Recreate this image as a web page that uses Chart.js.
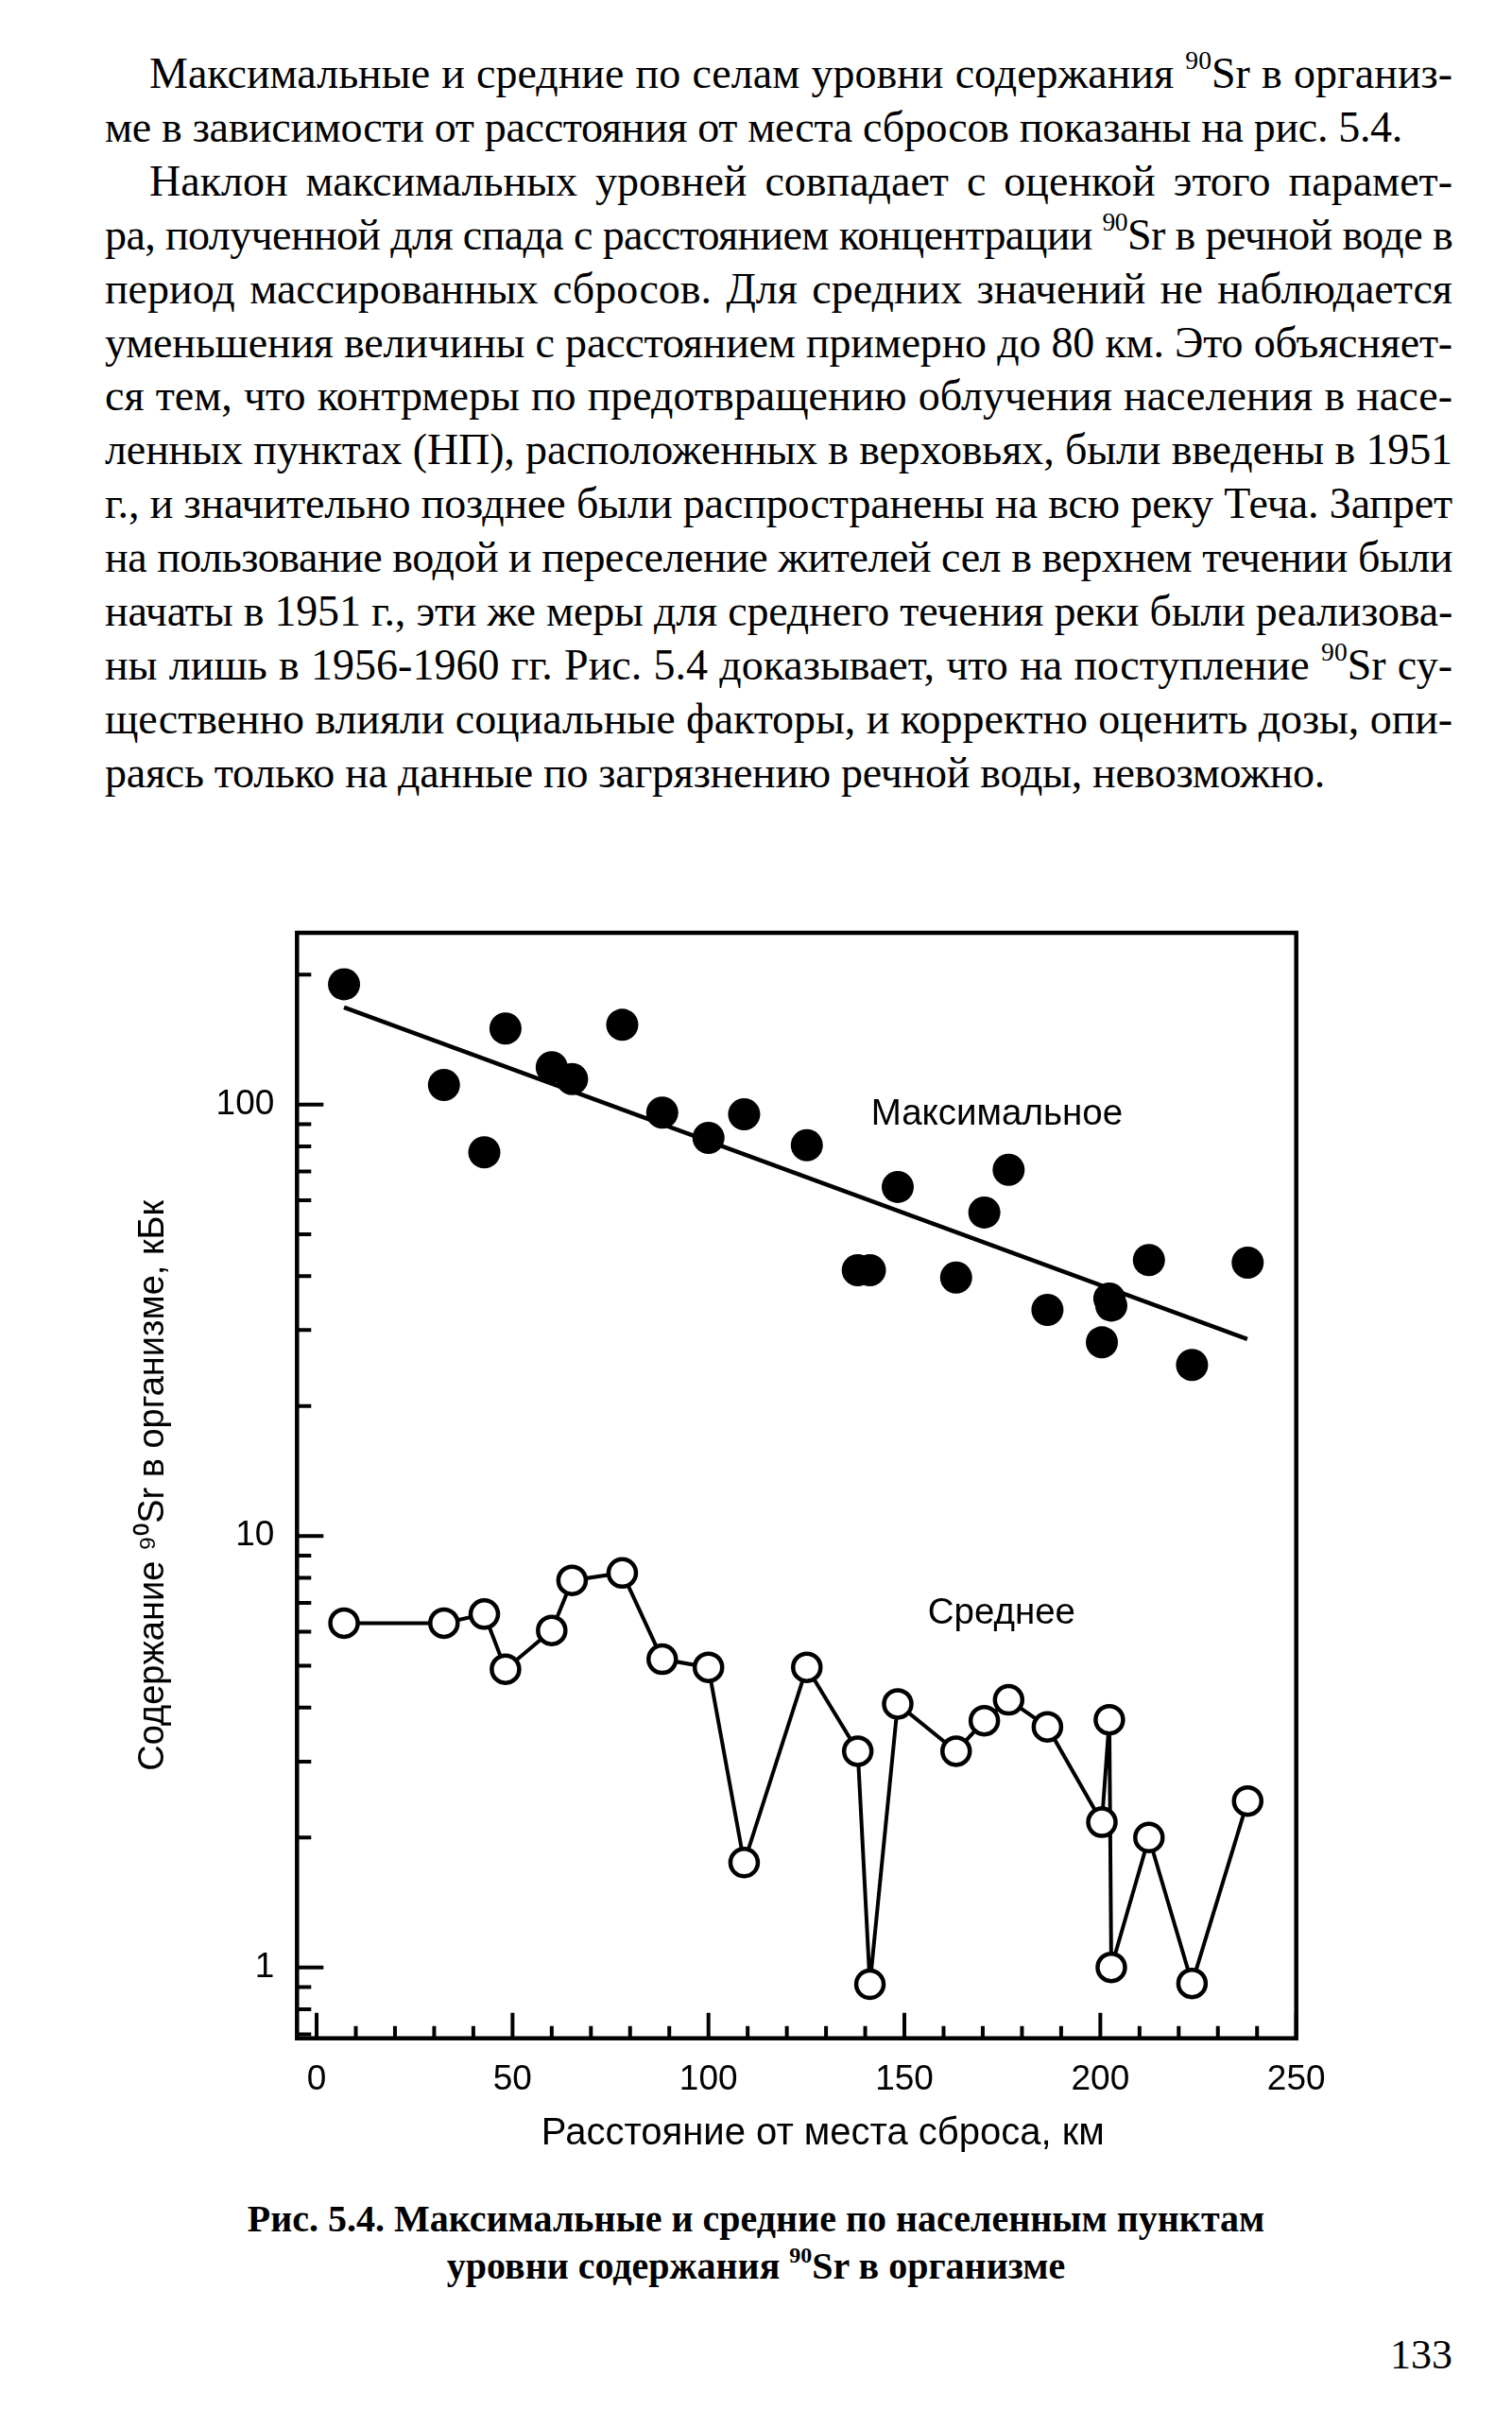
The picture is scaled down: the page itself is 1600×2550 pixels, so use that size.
<!DOCTYPE html>
<html lang="ru">
<head>
<meta charset="utf-8">
<script src="https://cdn.jsdelivr.net/npm/chart.js@4.4.1/dist/chart.umd.min.js"></script>
<style>
  html, body { margin: 0; padding: 0; background: #fff; }
  body { width: 1600px; height: 2550px; position: relative; overflow: hidden; color: #000; }
  .txt { position: absolute; left: 111px; top: 50px; width: 1426px;
         font-family: "Liberation Serif", "Times New Roman", serif; font-size: 46px; line-height: 56.9px; }
  .txt div { white-space: nowrap; }
  .txt .ind { padding-left: 47px; }
  sup { font-size: 0.6em; line-height: 0; vertical-align: 0.72em; }
  #wrap { position: absolute; left: 140px; top: 900px; width: 1300px; height: 1420px; }
  .cap { position: absolute; left: 0; top: 2323px; width: 1600px; text-align: center;
         font-family: "Liberation Serif", "Times New Roman", serif; font-weight: bold; font-size: 40px; line-height: 50px; }
  .pg { position: absolute; right: 63px; top: 2466px;
        font-family: "Liberation Serif", "Times New Roman", serif; font-size: 44px; }
</style>
</head>
<body>

<div class="txt">
  <div class="ind"><span>Максимальные и средние по селам уровни содержания <sup>90</sup>Sr в организ-</span></div>
  <div data-w="1373"><span>ме в зависимости от расстояния от места сбросов показаны на рис. 5.4.</span></div>
  <div class="ind"><span>Наклон максимальных уровней совпадает с оценкой этого парамет-</span></div>
  <div><span>ра, полученной для спада с расстоянием концентрации <sup>90</sup>Sr в речной воде в</span></div>
  <div><span>период массированных сбросов. Для средних значений не наблюдается</span></div>
  <div><span>уменьшения величины с расстоянием примерно до 80 км. Это объясняет-</span></div>
  <div><span>ся тем, что контрмеры по предотвращению облучения населения в насе-</span></div>
  <div><span>ленных пунктах (НП), расположенных в верховьях, были введены в 1951</span></div>
  <div><span>г., и значительно позднее были распространены на всю реку Теча. Запрет</span></div>
  <div><span>на пользование водой и переселение жителей сел в верхнем течении были</span></div>
  <div><span>начаты в 1951 г., эти же меры для среднего течения реки были реализова-</span></div>
  <div><span>ны лишь в 1956-1960 гг. Рис. 5.4 доказывает, что на поступление <sup>90</sup>Sr су-</span></div>
  <div><span>щественно влияли социальные факторы, и корректно оценить дозы, опи-</span></div>
  <div data-w="1291"><span>раясь только на данные по загрязнению речной воды, невозможно.</span></div>
</div>

<div id="wrap"><canvas id="sr90"></canvas></div>

<div class="cap">Рис. 5.4. Максимальные и средние по населенным пунктам<br>уровни содержания <sup>90</sup>Sr в организме</div>
<div class="pg">133</div>

<script>
// fit each printed line to its width: stretch spaces, or tighten letters if too long
document.querySelectorAll('.txt div').forEach(function (el) {
  var span = el.firstElementChild;
  var pad = parseFloat(getComputedStyle(el).paddingLeft) || 0;
  var target = el.dataset.w ? +el.dataset.w : el.clientWidth - pad;
  var natural = span.getBoundingClientRect().width;
  var diff = target - natural;
  var spaces = (span.textContent.match(/ /g) || []).length;
  if (diff >= 0) {
    if (spaces) span.style.wordSpacing = (diff / spaces) + 'px';
  } else {
    span.style.letterSpacing = (diff / span.textContent.length) + 'px';
  }
});

// расстояние от места сброса, км
const distance = [7, 32.5, 42.8, 48.2, 60, 65.2, 78, 88.2, 100, 109.1, 125.1, 138.1,
                  141.2, 148.3, 163.2, 170.4, 176.6, 186.5, 200.4, 202.3, 202.8, 212.4, 223.4, 237.6];
// максимальное содержание, кБк
const maxLevel = [190, 111, 77.5, 150, 122, 114.5, 153, 95.8, 83.7, 94.9, 80.5, 41.3,
                  41.3, 64.4, 39.7, 56.2, 70.6, 33.4, 28.1, 35.5, 34.2, 43.6, 24.9, 43.0];
// среднее содержание, кБк
const meanLevel = [6.28, 6.28, 6.59, 4.91, 6.04, 7.89, 8.21, 5.18, 4.96, 1.75, 4.96, 3.17,
                   0.914, 4.08, 3.17, 3.73, 4.17, 3.61, 2.17, 3.75, 1.0, 2.0, 0.918, 2.43];
// линия тренда для максимальных значений
const fitX = [7, 237.5];
const fitY = [168, 28.6];

const xTicks = [0, 10, 20, 30, 40, 50, 60, 70, 80, 90, 100, 110, 120, 130, 140, 150,
                160, 170, 180, 190, 200, 210, 220, 230, 240, 250];
const xLabels = [0, 50, 100, 150, 200, 250];
const yTicks = [0.7, 0.8, 0.9, 1, 2, 3, 4, 5, 6, 7, 8, 9, 10, 20, 30, 40, 50, 60, 70, 80, 90, 100, 200];
const yLabels = [1, 10, 100];

const FONT = '"Liberation Sans", Arial, Helvetica, sans-serif';

const toPoints = (xs, ys) => xs.map((x, i) => ({x: x, y: ys[i]}));

const frame = {
  id: 'frame',
  afterDraw(chart) {
    const {ctx, chartArea: a, scales: {x, y}} = chart;
    ctx.save();
    ctx.strokeStyle = '#000';
    ctx.lineWidth = 4;
    ctx.beginPath();
    xTicks.forEach(v => {
      const px = x.getPixelForValue(v);
      const len = xLabels.includes(v) ? 27 : 13;
      ctx.moveTo(px, a.bottom);
      ctx.lineTo(px, a.bottom - len);
    });
    yTicks.forEach(v => {
      const py = y.getPixelForValue(v);
      const len = yLabels.includes(v) ? 28 : 15;
      ctx.moveTo(a.left, py);
      ctx.lineTo(a.left + len, py);
    });
    ctx.stroke();
    ctx.lineWidth = 4.5;
    ctx.strokeRect(a.left, a.top, a.right - a.left, a.bottom - a.top);

    ctx.fillStyle = '#000';
    ctx.font = '38.5px ' + FONT;
    ctx.textAlign = 'center';
    ctx.textBaseline = 'middle';
    ctx.fillText('Максимальное', x.getPixelForValue(173.6), y.getPixelForValue(94.9));
    ctx.fillText('Среднее', x.getPixelForValue(174.8), y.getPixelForValue(6.6));
    ctx.restore();
  }
};

new Chart(document.getElementById('sr90'), {
  type: 'scatter',
  data: {
    datasets: [{
      label: 'Максимальное',
      data: toPoints(distance, maxLevel),
      showLine: false,
      pointRadius: 17,
      pointBorderWidth: 0,
      backgroundColor: '#000',
      borderColor: '#000'
    }, {
      label: 'Тренд',
      data: toPoints(fitX, fitY),
      showLine: true,
      pointRadius: 0,
      borderWidth: 4.5,
      borderColor: '#000'
    }, {
      label: 'Среднее',
      data: toPoints(distance, meanLevel),
      showLine: true,
      borderWidth: 4,
      borderColor: '#000',
      pointRadius: 14.5,
      pointBorderWidth: 4.5,
      pointBackgroundColor: '#fff',
      pointBorderColor: '#000'
    }]
  },
  options: {
    responsive: true,
    maintainAspectRatio: false,
    animation: false,
    layout: {padding: {top: 87, right: 68.3, left: 0, bottom: 0}},
    plugins: {legend: {display: false}, tooltip: {enabled: false}},
    scales: {
      x: {
        type: 'linear',
        min: -5,
        max: 250,
        grid: {display: false},
        border: {display: false},
        afterBuildTicks: s => { s.ticks = xTicks.map(v => ({value: v})); },
        afterFit: s => { s.height = 163.3; },
        ticks: {
          autoSkip: false,
          maxRotation: 0,
          padding: 14,
          color: '#000',
          font: {family: FONT, size: 37},
          callback: v => xLabels.includes(v) ? String(v) : ''
        },
        title: {
          display: true,
          text: '\u00a0\u00a0\u00a0\u00a0\u00a0Расстояние от места сброса, км',
          color: '#000',
          font: {family: FONT, size: 40},
          padding: {top: 0, bottom: 38}
        }
      },
      y: {
        type: 'logarithmic',
        min: 0.685,
        max: 250,
        grid: {display: false},
        border: {display: false},
        afterBuildTicks: s => { s.ticks = yTicks.map(v => ({value: v})); },
        afterFit: s => { s.width = 174.3; },
        ticks: {
          autoSkip: false,
          padding: 16,
          color: '#000',
          font: {family: FONT, size: 37},
          callback: v => yLabels.includes(v) ? String(v) : ''
        },
        title: {
          display: true,
          text: 'Содержание ⁹⁰Sr в организме, кБк',
          color: '#000',
          font: {family: FONT, size: 38},
          padding: {top: 0, bottom: 0}
        }
      }
    }
  },
  plugins: [frame]
});
</script>
</body>
</html>
